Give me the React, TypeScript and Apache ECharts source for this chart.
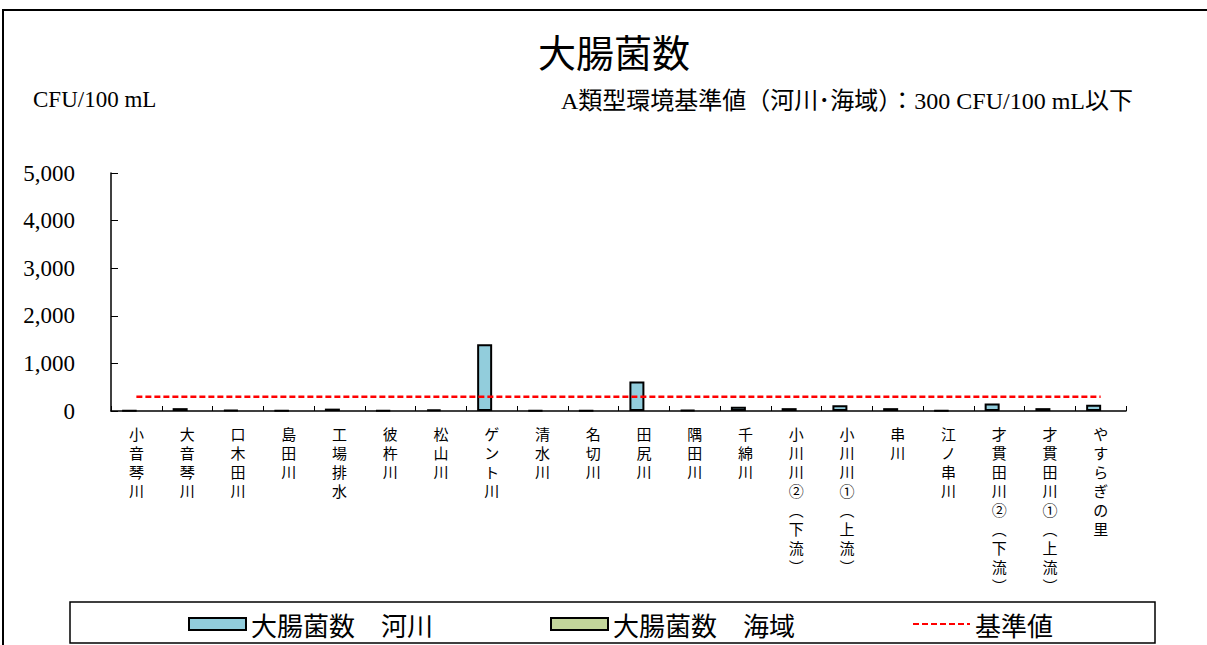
import React, { useEffect, useRef } from "react";
import * as echarts from "echarts";

const categories = [
  "小音琴川", "大音琴川", "口木田川", "島田川", "工場排水", "彼杵川", "松山川", "ゲント川",
  "清水川", "名切川", "田尻川", "隅田川", "千綿川", "小川川②（下流）", "小川川①（上流）",
  "串川", "江ノ串川", "才貫田川②（下流）", "才貫田川①（上流）", "やすらぎの里",
];
const riverValues: (number | null)[] = [10, 60, 20, 10, 50, 15, 30, 1400, 15, 10, 620, 20, 90, 60, 120, 60, 10, 160, 60, 130];
const seaValues: (number | null)[] = [null, null, null, null, null, null, null, null, null, null, null, null, null, null, null, null, null, null, null, null];
const STANDARD = 300;
const standardValues = categories.map(() => STANDARD);
const yTicks = { min: 0, max: 5000, interval: 1000 };

const SERIF = "'Liberation Serif', 'Noto Sans CJK JP', serif";
const JP = "'Noto Sans CJK JP', sans-serif";

export default function App() {
  const ref = useRef<HTMLDivElement>(null);
  useEffect(() => {
    if (!ref.current) return;
    const chart = echarts.init(ref.current, undefined, { renderer: "svg" });
    chart.setOption({
      animation: false,
      backgroundColor: "#ffffff",
      graphic: [
        { type: "rect", shape: { x: 3, y: 10, width: 1400, height: 800 }, style: { fill: "none", stroke: "#000", lineWidth: 2 }, z: 100 },
        { type: "rect", shape: { x: 70, y: 602, width: 1085, height: 41 }, style: { fill: "none", stroke: "#000", lineWidth: 1.5 }, z: 100 },
        { type: "text", x: 614, y: 31, style: { text: "大腸菌数", font: `38px ${JP}`, fill: "#000", align: "center" } },
        { type: "text", x: 33, y: 88, style: { text: "CFU/100 mL", font: `23px ${SERIF}`, fill: "#000" } },
        { type: "text", x: 847, y: 89, style: { text: "A類型環境基準値（河川･海域）：300 CFU/100 mL以下", font: `24px ${SERIF}`, fill: "#000", align: "center" } },
      ],
      legend: {
        left: 183,
        top: 606,
        itemWidth: 57,
        itemHeight: 12,
        itemGap: 117,
        textStyle: { fontSize: 26, fontFamily: JP, color: "#000" },
        data: [
          { name: "大腸菌数　河川", icon: "rect" },
          { name: "大腸菌数　海域", icon: "rect" },
          { name: "基準値", itemStyle: { opacity: 0 } },
        ],
      },
      grid: { left: 111, right: 81, top: 173, bottom: 234 },
      xAxis: {
        type: "category",
        data: categories,
        axisLine: { lineStyle: { color: "#000", width: 1.5 } },
        axisTick: { show: true, inside: true, length: 5, lineStyle: { color: "#000" } },
        axisLabel: {
          interval: 0,
          margin: 13,
          fontSize: 15,
          lineHeight: 19,
          fontFamily: JP,
          color: "#000",
          formatter: (v: string) => v.replace(/（/g, "︵").replace(/）/g, "︶").split("").join("\n"),
        },
      },
      yAxis: {
        type: "value",
        min: yTicks.min,
        max: yTicks.max,
        interval: yTicks.interval,
        splitLine: { show: false },
        axisLine: { show: true, lineStyle: { color: "#000", width: 1.5 } },
        axisTick: { show: true, inside: true, length: 7, lineStyle: { color: "#000" } },
        axisLabel: {
          margin: 36,
          fontSize: 23,
          fontFamily: SERIF,
          color: "#000",
          formatter: (v: number) => v.toLocaleString("en-US"),
        },
      },
      series: [
        {
          name: "大腸菌数　河川",
          type: "bar",
          data: riverValues,
          barWidth: 15,
          barGap: "-7%",
          itemStyle: { color: "#92cddc", borderColor: "#000", borderWidth: 2 },
        },
        {
          name: "大腸菌数　海域",
          type: "bar",
          data: seaValues,
          barWidth: 15,
          itemStyle: { color: "#c3d69b", borderColor: "#000", borderWidth: 2 },
        },
        {
          name: "基準値",
          type: "line",
          data: standardValues,
          symbol: "none",
          lineStyle: { color: "#ff0000", width: 2.5, type: [6, 3] },
          itemStyle: { color: "#ff0000" },
          z: 5,
        },
      ],
    });
    return () => chart.dispose();
  }, []);
  return <div ref={ref} style={{ position: "fixed", left: 0, top: 0, width: 1207, height: 645 }} />;
}
